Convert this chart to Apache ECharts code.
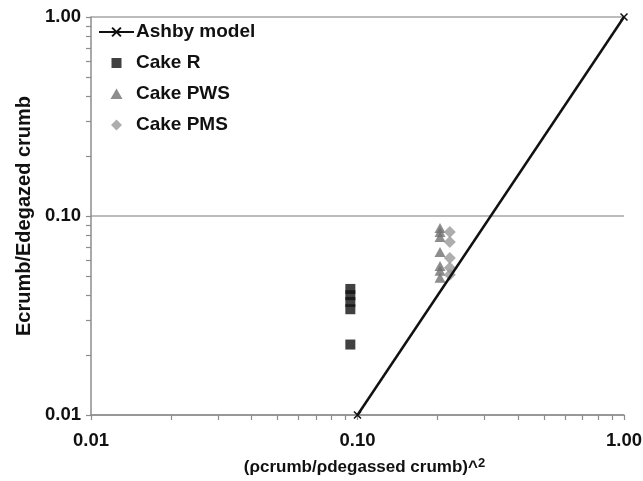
<!DOCTYPE html>
<html>
<head>
<meta charset="utf-8">
<script src="https://cdn.jsdelivr.net/npm/echarts@6/dist/echarts.min.js"></script>
<style>
  html, body { margin: 0; padding: 0; background: #fff; }
  #chart { width: 643px; height: 481px; }
</style>
</head>
<body>
<div id="chart"></div>
<script>
// Ashby model line: E/E0 = (rho/rho0)^2
const ashbyX = [0.1, 1.0];
const ashbyY = [0.01, 1.0];

// Measured crumb samples
const cakeRX = [0.094, 0.094, 0.094, 0.094, 0.094];
const cakeRY = [0.043, 0.040, 0.037, 0.034, 0.0226];

const cakePWSX = [0.204, 0.204, 0.204, 0.204, 0.204, 0.204, 0.204];
const cakePWSY = [0.087, 0.083, 0.0785, 0.066, 0.056, 0.053, 0.049];

const cakePMSX = [0.222, 0.222, 0.222, 0.222, 0.222];
const cakePMSY = [0.083, 0.074, 0.0615, 0.055, 0.0506];

// Minor tick positions (2..9 within each decade)
const minorTicks = [0.02, 0.03, 0.04, 0.05, 0.06, 0.07, 0.08, 0.09,
                    0.2, 0.3, 0.4, 0.5, 0.6, 0.7, 0.8, 0.9];

const pair = (xs, ys) => xs.map((x, i) => [x, ys[i]]);

const FONT = 'Liberation Sans';
const AXIS_GREY = '#8c8c8c';
const crossPath = 'path://M0,0L10,10M10,0L0,10';

// Legend icons: marker centred in a 35x11 box (outer moveTo points fix the box)
const iconSquare = 'path://M0,0M35,11M12.5,0.5L22.5,0.5L22.5,10.5L12.5,10.5Z';
const iconTriangle = 'path://M0,0M35,11M11.5,10.5L17.5,0L23.5,10.5Z';
const iconDiamond = 'path://M0,0M35,11M12,5.5L17.5,0L23,5.5L17.5,11Z';

const labelStyle = { fontFamily: FONT, fontWeight: 'bold', fontSize: 18.5, color: '#111' };

const chart = echarts.init(document.getElementById('chart'));
chart.setOption({
  animation: false,
  backgroundColor: '#ffffff',
  textStyle: { fontFamily: FONT },
  grid: { left: 91, right: 19, top: 17, bottom: 66, outerBoundsMode: 'none', containLabel: false },
  legend: {
    orient: 'vertical',
    left: 98,
    top: 22,
    padding: 0,
    itemWidth: 35,
    itemHeight: 11,
    itemGap: 11,
    textStyle: { fontFamily: FONT, fontWeight: 'bold', fontSize: 19, color: '#111', lineHeight: 20, padding: [0, 0, 0, -3] },
    data: [
      { name: 'Ashby model' },
      { name: 'Cake R', icon: iconSquare },
      { name: 'Cake PWS', icon: iconTriangle },
      { name: 'Cake PMS', icon: iconDiamond }
    ]
  },
  xAxis: [
    {
      type: 'log',
      logBase: 10,
      min: 0.01,
      max: 1,
      interval: 1,
      name: '{n|(ρcrumb/ρdegassed crumb)^}{s|2}',
      nameLocation: 'middle',
      nameGap: 42,
      nameTextStyle: {
        padding: [0, 0, 0, 14],
        rich: {
          n: { fontFamily: FONT, fontWeight: 'bold', fontSize: 17, color: '#111' },
          s: { fontFamily: FONT, fontWeight: 'bold', fontSize: 13, color: '#111', padding: [0, 0, 8, 0] }
        }
      },
      axisLine: { lineStyle: { color: AXIS_GREY, width: 1.5 } },
      axisTick: { inside: false, length: 5, lineStyle: { color: AXIS_GREY, width: 1.2 } },
      axisLabel: Object.assign({ margin: 16, formatter: v => Number(v).toFixed(2) }, labelStyle),
      splitLine: { show: false }
    },
    {
      // minor ticks only
      type: 'log',
      logBase: 10,
      min: 0.01,
      max: 1,
      interval: 1,
      position: 'bottom',
      offset: 0,
      axisLine: { show: false },
      axisTick: { show: true, inside: false, length: 5, customValues: minorTicks, lineStyle: { color: AXIS_GREY, width: 1.2 } },
      axisLabel: { show: false },
      splitLine: { show: false }
    }
  ],
  yAxis: [
    {
      type: 'log',
      logBase: 10,
      min: 0.01,
      max: 1,
      interval: 1,
      name: 'Ecrumb/Edegazed crumb',
      nameLocation: 'middle',
      nameGap: 52,
      nameTextStyle: { fontFamily: FONT, fontWeight: 'bold', fontSize: 20, color: '#111' },
      axisLine: { show: true, lineStyle: { color: AXIS_GREY, width: 1.5 } },
      axisTick: { show: true, inside: false, length: 5, lineStyle: { color: AXIS_GREY, width: 1.2 } },
      axisLabel: Object.assign({ margin: 10, formatter: v => Number(v).toFixed(2) }, labelStyle),
      splitLine: { show: true, lineStyle: { color: '#a6a6a6', width: 1.5 } }
    },
    {
      // minor ticks only
      type: 'log',
      logBase: 10,
      min: 0.01,
      max: 1,
      interval: 1,
      position: 'left',
      offset: 0,
      axisLine: { show: false },
      axisTick: { show: true, inside: false, length: 5, customValues: minorTicks, lineStyle: { color: AXIS_GREY, width: 1.2 } },
      axisLabel: { show: false },
      splitLine: { show: false }
    }
  ],
  series: [
    {
      name: 'Ashby model',
      type: 'line',
      data: pair(ashbyX, ashbyY),
      symbol: crossPath,
      symbolSize: 7,
      showSymbol: true,
      lineStyle: { color: '#111', width: 2.5 },
      itemStyle: { color: '#111', borderColor: '#111', borderWidth: 1.5 },
      z: 3
    },
    {
      name: 'Cake R',
      type: 'scatter',
      data: pair(cakeRX, cakeRY),
      symbol: 'rect',
      symbolSize: 10,
      itemStyle: { color: '#111111' }
    },
    {
      name: 'Cake PWS',
      type: 'scatter',
      data: pair(cakePWSX, cakePWSY),
      symbol: 'triangle',
      symbolSize: [11, 10],
      itemStyle: { color: '#717171' }
    },
    {
      name: 'Cake PMS',
      type: 'scatter',
      data: pair(cakePMSX, cakePMSY),
      symbol: 'diamond',
      symbolSize: 12,
      itemStyle: { color: '#999999' }
    }
  ]
});
</script>
</body>
</html>
